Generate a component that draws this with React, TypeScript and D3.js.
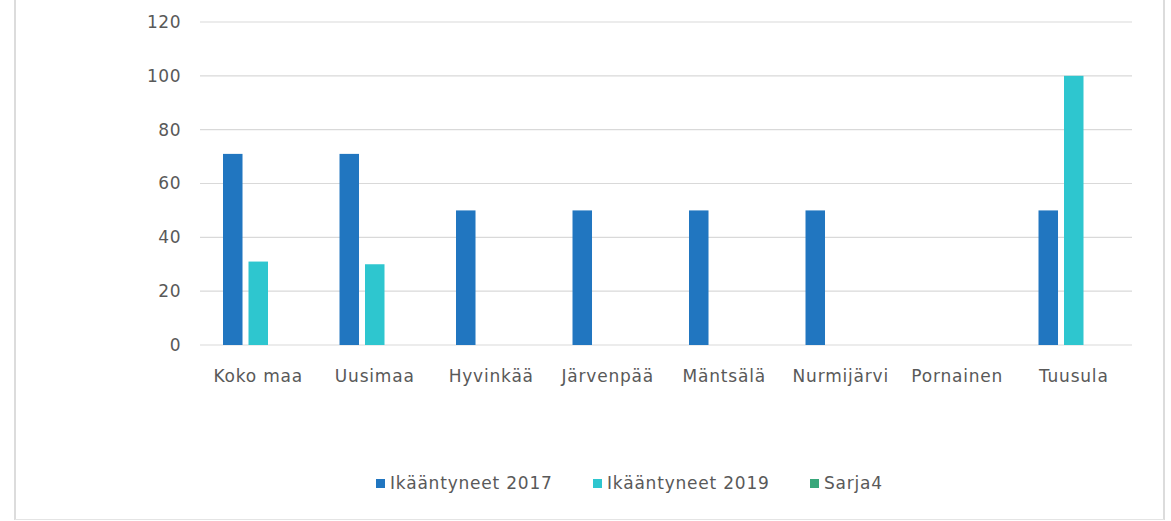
import React from "react";
import * as d3 from "d3";

const categories = ["Koko maa", "Uusimaa", "Hyvinkää", "Järvenpää", "Mäntsälä", "Nurmijärvi", "Pornainen", "Tuusula"];
const seriesNames = ["Ikääntyneet 2017", "Ikääntyneet 2019", "Sarja4"];
const series2017 = [71, 71, 50, 50, 50, 50, 0, 50];
const series2019 = [31, 30, 0, 0, 0, 0, 0, 100];
const seriesSarja4 = [0, 0, 0, 0, 0, 0, 0, 0];
const yTicks = [0, 20, 40, 60, 80, 100, 120];
const colors = ["#2176c0", "#2ec6cf", "#38a77a"];

const W = 1171;
const H = 521;
const left = 200;
const right = 1132;
const top = 22;
const bottom = 345;
const font = "'DejaVu Sans', sans-serif";
const textColor = "#595959";

export default function App() {
  const allSeries = [series2017, series2019, seriesSarja4];
  const x0 = d3.scaleBand<string>().domain(categories).range([left, right]).paddingInner(0.395).paddingOuter(0.1975);
  const x1 = d3.scaleBand<string>().domain(seriesNames).range([0, x0.bandwidth()]).paddingInner(0.235);
  const y = d3.scaleLinear().domain([0, 120]).range([bottom, top]);

  const legendX = [376, 593, 810];
  const legendY = 479;

  return (
    <svg width={W} height={H} style={{ position: "absolute", left: 0, top: 0, background: "#fff" }}>
      <rect x={0} y={0} width={W} height={H} fill="#fff" />
      <line x1={15} x2={15} y1={0} y2={520} stroke="#d0d0d0" strokeWidth={1.5} />
      <line x1={1164} x2={1164} y1={0} y2={520} stroke="#d0d0d0" strokeWidth={1.5} />
      <line x1={15} x2={1164} y1={519.5} y2={519.5} stroke="#e4e4e4" strokeWidth={1} />
      {yTicks.map((t) => (
        <g key={t}>
          <line x1={left} x2={right} y1={y(t)} y2={y(t)} stroke="#d9d9d9" strokeWidth={1.2} />
          <text x={181} y={y(t)} dy="0.35em" textAnchor="end" fontFamily={font} fontSize={17} fill={textColor} letterSpacing={0.5}>
            {t}
          </text>
        </g>
      ))}
      {categories.map((c, i) => (
        <g key={c}>
          {allSeries.map((s, j) => {
            const v = s[i];
            if (!v) return null;
            return (
              <rect
                key={j}
                x={(x0(c) as number) + (x1(seriesNames[j]) as number)}
                y={y(v)}
                width={x1.bandwidth()}
                height={y(0) - y(v)}
                fill={colors[j]}
              />
            );
          })}
          <text
            x={(x0(c) as number) + x0.bandwidth() / 2}
            y={382}
            textAnchor="middle"
            fontFamily={font}
            fontSize={17}
            fill={textColor}
            letterSpacing={0.8}
          >
            {c}
          </text>
        </g>
      ))}
      {seriesNames.map((n, j) => (
        <g key={n}>
          <rect x={legendX[j]} y={legendY} width={9} height={9} fill={colors[j]} />
          <text x={legendX[j] + 14} y={legendY + 10} fontFamily={font} fontSize={17} fill={textColor} letterSpacing={0.8}>
            {n}
          </text>
        </g>
      ))}
    </svg>
  );
}
